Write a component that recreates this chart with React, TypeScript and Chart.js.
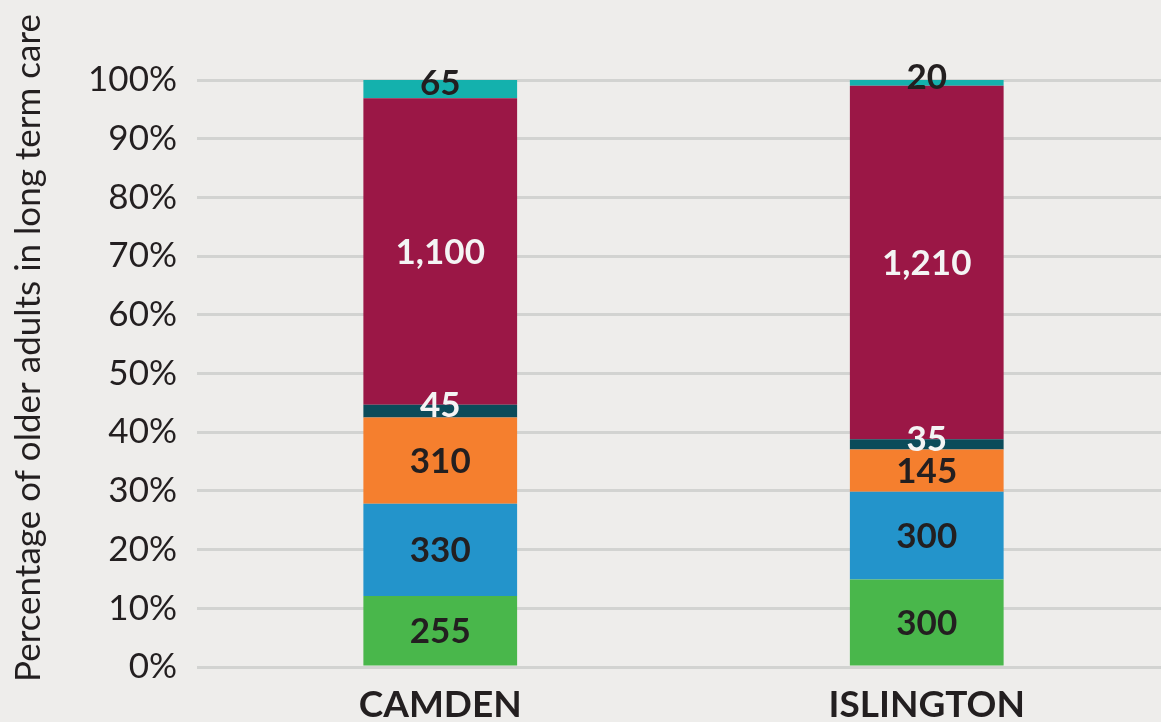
import React, { useEffect, useRef } from "react";
import { Chart, registerables } from "chart.js";
Chart.register(...registerables);

const categories = ["CAMDEN", "ISLINGTON"];
const greenValues = [255, 300];
const blueValues = [330, 300];
const orangeValues = [310, 145];
const darkTealValues = [45, 35];
const maroonValues = [1100, 1210];
const tealValues = [65, 20];
const yTickValues = [0, 10, 20, 30, 40, 50, 60, 70, 80, 90, 100];
const yTitle = "Percentage of older adults in long term care";

const seriesValues = [greenValues, blueValues, orangeValues, darkTealValues, maroonValues, tealValues];
const seriesColors = ["#49b74b", "#2394cb", "#f57f2e", "#0b4b5a", "#9b1746", "#14b1ad"];
const labelColors = ["#231f20", "#231f20", "#231f20", "#f4f4f4", "#f4f4f4", "#231f20"];

const FONT = "Lato, 'Noto Sans', sans-serif";
const INK = "#231f20";

const totals = categories.map((_, i) => seriesValues.reduce((s, arr) => s + arr[i], 0));

const bgPlugin = {
  id: "bg",
  beforeDraw(chart: any) {
    const { ctx, width, height } = chart;
    ctx.save();
    ctx.fillStyle = "#eeedeb";
    ctx.fillRect(0, 0, width, height);
    ctx.restore();
  },
};

const titlePlugin = {
  id: "yTitle",
  afterDraw(chart: any) {
    const { ctx } = chart;
    ctx.save();
    ctx.translate(29, 348);
    ctx.rotate(-Math.PI / 2);
    ctx.font = `35px ${FONT}`;
    ctx.fillStyle = INK;
    ctx.textAlign = "center";
    ctx.textBaseline = "middle";
    ctx.fillText(yTitle, 0, 0);
    ctx.restore();
  },
};

const labelPlugin = {
  id: "segLabels",
  afterDatasetsDraw(chart: any) {
    const { ctx } = chart;
    ctx.save();
    ctx.font = `bold 35px ${FONT}`;
    ctx.textAlign = "center";
    ctx.textBaseline = "middle";
    chart.data.datasets.forEach((ds: any, di: number) => {
      const meta = chart.getDatasetMeta(di);
      meta.data.forEach((bar: any, i: number) => {
        const h = Math.abs(bar.base - bar.y);
        let mid = (bar.y + bar.base) / 2;
        if (h < 25) mid -= 6;
        ctx.fillStyle = labelColors[di];
        ctx.fillText(seriesValues[di][i].toLocaleString("en-GB"), bar.x, mid + 1);
      });
    });
    ctx.restore();
  },
};

export default function App() {
  const ref = useRef<HTMLCanvasElement | null>(null);
  useEffect(() => {
    if (!ref.current) return;
    const chart = new Chart(ref.current, {
      type: "bar",
      data: {
        labels: categories,
        datasets: seriesValues.map((vals, di) => ({
          label: "s" + di,
          data: vals.map((v, i) => (v / totals[i]) * 100),
          backgroundColor: seriesColors[di],
          borderWidth: 0,
          categoryPercentage: 1,
          barPercentage: 0.316,
        })),
      },
      options: {
        responsive: false,
        animation: false,
        devicePixelRatio: 1,
        layout: { padding: { top: 80, bottom: 0, left: 0, right: 0 } },
        plugins: { legend: { display: false }, tooltip: { enabled: false } },
        scales: {
          x: {
            stacked: true,
            grid: { display: false, drawTicks: false },
            border: { display: false },
            ticks: { color: INK, font: { family: FONT, size: 37, weight: "bold" }, padding: 16 },
            afterFit: (scale: any) => {
              scale.height = 55;
            },
          },
          y: {
            stacked: true,
            min: 0,
            max: 100,
            afterBuildTicks: (axis: any) => {
              axis.ticks = yTickValues.map((v) => ({ value: v }));
            },
            afterFit: (scale: any) => {
              scale.width = 197;
            },
            grid: { color: "#d2d3d1", lineWidth: 3, drawTicks: false },
            border: { display: false },
            ticks: {
              color: INK,
              font: { family: FONT, size: 35 },
              padding: 20,
              callback: (v: any) => v + "%",
            },
          },
        },
      },
      plugins: [bgPlugin, labelPlugin, titlePlugin],
    });
    return () => chart.destroy();
  }, []);
  return (
    <div style={{ position: "fixed", left: 0, top: 0, width: 1161, height: 722, overflow: "hidden", background: "#eeedeb" }}>
      <canvas ref={ref} width={1170} height={722} />
    </div>
  );
}
